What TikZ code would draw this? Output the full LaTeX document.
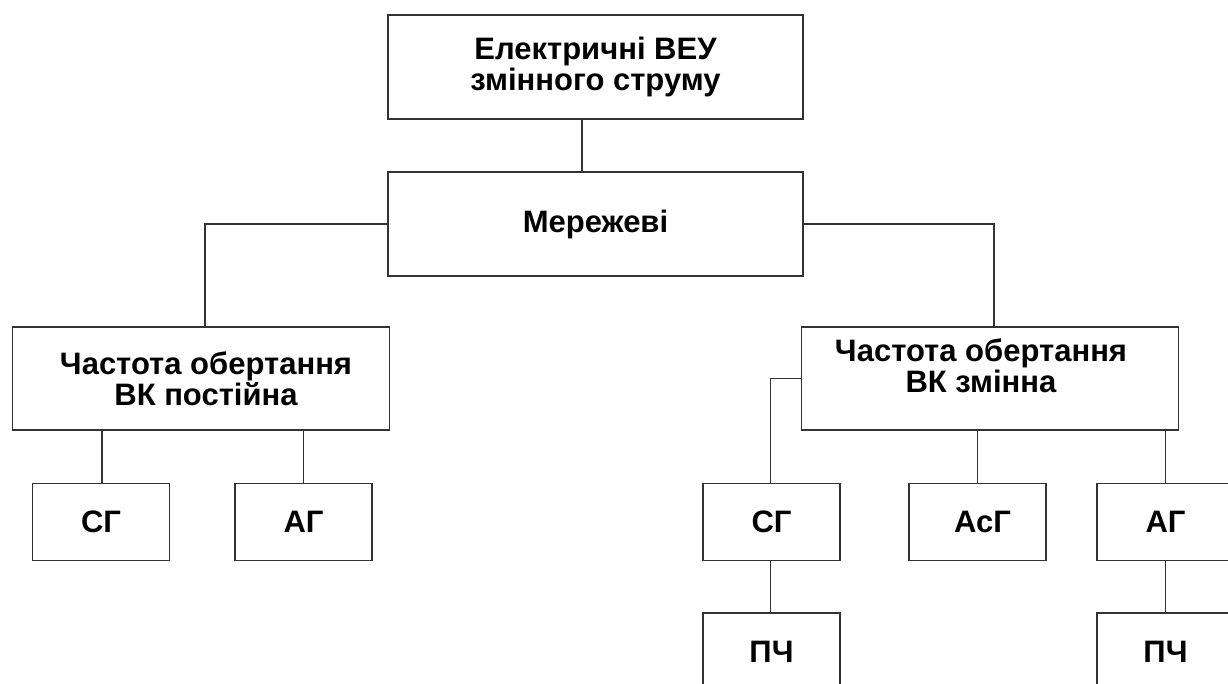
\documentclass[tikz,border=0pt]{standalone}
\usepackage{fontspec}
\setmainfont{Liberation Sans}
\begin{document}
\begin{tikzpicture}[x=1pt,y=-1pt,
  box/.style={draw=black!80,line width=1.9pt,rectangle,inner sep=0pt,outer sep=0pt,
    font=\fontsize{31}{31}\selectfont\bfseries,align=center},
  wide/.style={box,minimum width=415pt,minimum height=104pt},
  mid/.style={box,minimum width=377pt,minimum height=103pt},
  small/.style={box,minimum width=137pt,minimum height=77pt},
  lbl/.style={font=\fontsize{31}{31}\selectfont\bfseries,align=center,inner sep=0pt},
  conn/.style={draw=black!80,line width=1.9pt}]
\useasboundingbox (0,0) rectangle (1228,684);
\clip (0,0) rectangle (1228,684);
\node[wide] (top) at (595.5,67) {Електричні ВЕУ\\змінного струму};
\node[wide] (mer) at (595.5,224) {Мережеві};
\node[mid] (lch) at (201,378.5) {\hspace*{10pt}Частота обертання\\\hspace*{10pt}ВК постійна};
\node[mid] (rch) at (990,378.5) {};
\node[lbl] at (981,366) {Частота обертання\\ВК змінна};
\node[small] (lsg) at (101,522) {СГ};
\node[small] (lag) at (303.5,522) {АГ};
\node[small] (rsg) at (771.5,522) {СГ};
\node[small] (asg) at (977.5,522) {\hspace*{10pt}АсГ};
\node[small] (rag) at (1165.5,522) {АГ};
\node[small] (pch1) at (771.5,651.5) {ПЧ};
\node[small] (pch2) at (1165.5,651.5) {ПЧ};
\draw[conn] ([xshift=-13.5pt]top.south) -- ([xshift=-13.5pt]top.south |- mer.north);
\draw[conn] (mer.west) -| ([xshift=4pt]lch.north);
\draw[conn] (mer.east) -| ([xshift=4pt]rch.north);
\draw[conn] ([xshift=1pt]lsg.north) -- ([xshift=1pt]lsg.north |- lch.south);
\draw[conn] (lag.north) -- (lag.north |- lch.south);
\draw[conn] (rch.west) -| ([xshift=-1pt]rsg.north);
\draw[conn] (asg.north) -- (asg.north |- rch.south);
\draw[conn] (rag.north) -- (rag.north |- rch.south);
\draw[conn] ([xshift=-1pt]rsg.south) -- ([xshift=-1pt]pch1.north);
\draw[conn] (rag.south) -- (pch2.north);
\end{tikzpicture}
\end{document}
